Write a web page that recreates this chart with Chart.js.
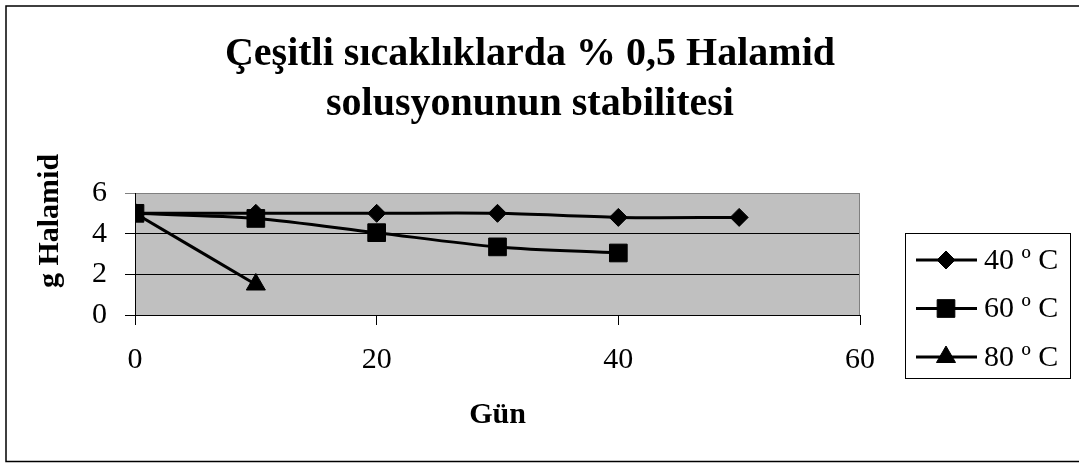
<!DOCTYPE html>
<html>
<head>
<meta charset="utf-8">
<script src="https://cdn.jsdelivr.net/npm/chart.js@4/dist/chart.umd.min.js"></script>
<style>
    html, body { margin: 0; padding: 0; background: #fff; }
    #wrap { width: 1079px; height: 468px; position: relative; }
</style>
</head>
<body>
<div id="wrap"><canvas id="lineChart"></canvas></div>
<script>
// =========================
// DATA
// =========================

const days40 = [0, 10, 20, 30, 40, 50];
const values40 = [5.0, 5.0, 5.0, 5.0, 4.8, 4.8];

const days60 = [0, 10, 20, 30, 40];
const values60 = [5.0, 4.75, 4.05, 3.35, 3.05];

const days80 = [0, 10];
const values80 = [5.0, 1.5];

const seriesNames = ["40 º C", "60 º C", "80 º C"];
const xTicks = [0, 20, 40, 60];
const yTicks = [0, 2, 4, 6];

const titleLines = ["Çeşitli sıcaklıklarda % 0,5 Halamid", "solusyonunun stabilitesi"];
const xTitle = "Gün";
const yTitle = "g Halamid";

const serif = "'Liberation Serif', 'Times New Roman', serif";

function points(xs, ys) {
    return xs.map((x, i) => ({ x: x, y: ys[i] }));
}

function series(label, data, style, radius) {
    return {
        label: label,
        data: data,
        showLine: true,
        borderColor: "#000",
        backgroundColor: "#000",
        borderWidth: 3,
        tension: 0.3,
        pointStyle: style,
        pointRadius: radius,
        pointHoverRadius: radius,
        pointBorderWidth: 1
    };
}

// =========================
// PLUGINS
// =========================

// gray plot area, outer frame, rotated y title
const chartDecor = {
    id: "chartDecor",
    beforeDraw(chart) {
        const { ctx, chartArea: a } = chart;
        ctx.save();
        ctx.fillStyle = "#fff";
        ctx.fillRect(0, 0, chart.width, chart.height);
        ctx.fillStyle = "#c0c0c0";
        ctx.fillRect(a.left, a.top, a.right - a.left, a.bottom - a.top);
        ctx.restore();
    },
    beforeDatasetsDraw(chart) {
        const { ctx, chartArea: a } = chart;
        ctx.save();
        ctx.strokeStyle = "#808080";
        ctx.lineWidth = 1;
        ctx.beginPath();
        ctx.moveTo(a.right - 0.5, a.top);
        ctx.lineTo(a.right - 0.5, a.bottom);
        ctx.stroke();
        ctx.restore();
    },
    afterDraw(chart) {
        const { ctx } = chart;
        ctx.save();
        ctx.strokeStyle = "#000";
        ctx.lineWidth = 1.5;
        ctx.strokeRect(6, 6, chart.width + 10, chart.height - 12.5);

        ctx.translate(50, 221);
        ctx.rotate(-Math.PI / 2);
        ctx.fillStyle = "#000";
        ctx.font = "bold 30px " + serif;
        ctx.textAlign = "center";
        ctx.textBaseline = "middle";
        ctx.fillText(yTitle, 0, 0);
        ctx.restore();
    }
};

// legend box on the right side, registered as a layout box
const sideLegend = {
    id: "sideLegend",
    start(chart) {
        const box = {
            position: "right",
            weight: 0,
            fullSize: false,
            options: {},
            left: 0, top: 0, right: 0, bottom: 0, width: 0, height: 0,
            isHorizontal() { return false; },
            update(maxWidth, maxHeight) {
                this.width = 200;
                this.height = maxHeight;
            },
            draw() {
                const ctx = chart.ctx;
                const x0 = this.left + 45;
                ctx.save();
                ctx.strokeStyle = "#000";
                ctx.lineWidth = 1;
                ctx.strokeRect(x0 + 0.5, 233.5, 165, 145);
                chart.data.datasets.forEach((ds, i) => {
                    const y = 260 + i * 48.5;
                    ctx.strokeStyle = "#000";
                    ctx.lineWidth = 3;
                    ctx.beginPath();
                    ctx.moveTo(x0 + 11, y);
                    ctx.lineTo(x0 + 72, y);
                    ctx.stroke();
                    ctx.fillStyle = "#000";
                    ctx.lineWidth = 1;
                    Chart.helpers.drawPoint(ctx, {
                        pointStyle: ds.pointStyle,
                        radius: ds.pointRadius,
                        rotation: 0,
                        borderWidth: 1
                    }, x0 + 41, y);
                    ctx.font = "30px " + serif;
                    ctx.textAlign = "left";
                    ctx.textBaseline = "middle";
                    ctx.fillText(ds.label, x0 + 79, y + 1);
                });
                ctx.restore();
            }
        };
        Chart.layouts.addBox(chart, box);
    }
};

// =========================
// LINE CHART (Halamid stability)
// =========================

const canvas = document.getElementById("lineChart");

if (canvas) {
    new Chart(canvas, {
        type: "scatter",
        data: {
            datasets: [
                series(seriesNames[0], points(days40, values40), "rectRot", 9),
                series(seriesNames[1], points(days60, values60), "rect", 12.5),
                series(seriesNames[2], points(days80, values80), "triangle", 11)
            ]
        },
        options: {
            responsive: true,
            maintainAspectRatio: false,
            animation: false,
            layout: {
                padding: { left: 0, right: 19, top: 0, bottom: 35 }
            },
            plugins: {
                legend: { display: false },
                tooltip: { enabled: false },
                title: {
                    display: true,
                    text: titleLines,
                    color: "#000",
                    font: { family: serif, size: 40, weight: "bold", lineHeight: 1.25 },
                    padding: { top: 30, bottom: 63 }
                }
            },
            scales: {
                x: {
                    type: "linear",
                    min: xTicks[0],
                    max: xTicks[xTicks.length - 1],
                    afterBuildTicks: (scale) => {
                        scale.ticks = xTicks.map(v => ({ value: v }));
                    },
                    grid: {
                        drawOnChartArea: false,
                        drawTicks: true,
                        tickLength: 10,
                        color: "#000"
                    },
                    border: { color: "#000", width: 1 },
                    ticks: {
                        color: "#000",
                        padding: 17,
                        maxRotation: 0,
                        autoSkip: false,
                        font: { family: serif, size: 30 }
                    },
                    title: {
                        display: true,
                        text: xTitle,
                        color: "#000",
                        font: { family: serif, size: 30, weight: "bold", lineHeight: 1.2 },
                        padding: { top: 2, bottom: 0 }
                    }
                },
                y: {
                    min: yTicks[0],
                    max: yTicks[yTicks.length - 1],
                    afterBuildTicks: (scale) => {
                        scale.ticks = yTicks.map(v => ({ value: v }));
                    },
                    afterFit: (scale) => {
                        scale.width = 135;
                    },
                    grid: {
                        drawTicks: true,
                        tickLength: 10,
                        color: (c) => (c.tick && c.tick.value === 6 ? "#808080" : "#000"),
                        lineWidth: 1
                    },
                    border: { color: "#000", width: 1 },
                    ticks: {
                        color: "#000",
                        padding: 18,
                        autoSkip: false,
                        font: { family: serif, size: 30 }
                    }
                }
            }
        },
        plugins: [chartDecor, sideLegend]
    });
}
</script>
</body>
</html>
